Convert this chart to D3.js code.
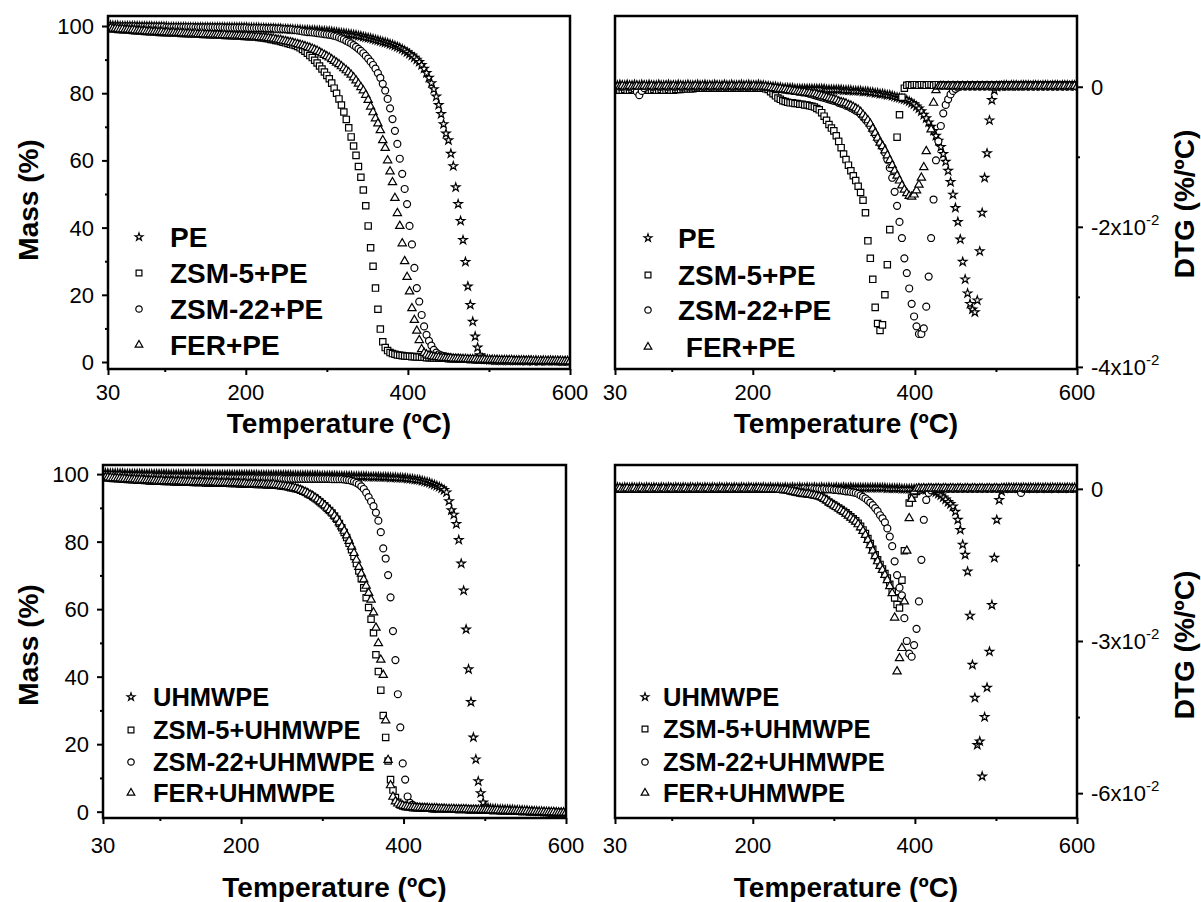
<!DOCTYPE html>
<html>
<head>
<meta charset="utf-8">
<script src="https://cdn.jsdelivr.net/npm/d3@7"></script>
<style>
body { margin: 0; background: #fff; }
text { font-family: "Liberation Sans", Arial, sans-serif; fill: #000; }
</style>
</head>
<body>
<svg width="1201" height="902"></svg>
<script>
// temperature grid (ºC), shared by all sixteen curves
var temps = [
  30,33,36,39,42,45,48,51,54,57, 60,63,66,69,72,75,78,81,84,87,
  90,93,96,99,102,105,108,111,114,117, 120,123,126,129,132,135,138,141,144,147,
  150,153,156,159,162,165,168,171,174,177, 180,183,186,189,192,195,198,201,204,207,
  210,213,216,219,222,225,228,231,234,237, 240,243,246,249,252,255,258,261,264,267,
  270,273,276,279,282,285,288,291,294,297, 300,303,306,309,312,315,318,321,324,327,
  330,333,336,339,342,345,348,351,354,357, 360,363,366,369,372,375,378,381,384,387,
  390,393,396,399,402,405,408,411,414,417, 420,423,426,429,432,435,438,441,444,447,
  450,453,456,459,462,465,468,471,474,477, 480,483,486,489,492,495,498,501,504,507,
  510,513,516,519,522,525,528,531,534,537, 540,543,546,549,552,555,558,561,564,567,
  570,573,576,579,582,585,588,591,594,597, 600
];

// mass (%) - PE group
var tgaPE = [
  100.2,100.2,100.1,100.1,100.1,100.0,100.0,100.0,100.0,100.0,
  100.0,100.0,100.0,99.9,99.9,99.9,99.9,99.9,99.9,99.8,
  99.8,99.8,99.8,99.8,99.8,99.7,99.7,99.7,99.7,99.7,
  99.7,99.7,99.7,99.6,99.6,99.6,99.6,99.6,99.6,99.6,
  99.6,99.6,99.6,99.6,99.6,99.6,99.6,99.6,99.6,99.6,
  99.6,99.6,99.6,99.6,99.6,99.6,99.6,99.6,99.5,99.5,
  99.5,99.5,99.5,99.4,99.4,99.4,99.3,99.3,99.3,99.2,
  99.2,99.2,99.1,99.1,99.1,99.0,99.0,98.9,98.9,98.9,
  98.8,98.8,98.8,98.7,98.7,98.7,98.6,98.6,98.5,98.5,
  98.4,98.4,98.3,98.2,98.1,98.0,97.9,97.8,97.7,97.6,
  97.5,97.4,97.3,97.1,97.0,96.8,96.6,96.5,96.3,96.1,
  95.9,95.7,95.5,95.3,95.1,94.9,94.6,94.4,94.1,93.8,
  93.5,93.1,92.7,92.2,91.7,91.2,90.6,90.0,89.3,88.4,
  87.3,86.0,84.6,83.0,81.2,79.0,76.5,73.8,70.8,68.0,
  66.0,62.0,58.3,52.0,47.0,42.0,36.3,29.8,22.5,17.0,
  12.0,7.6,4.3,2.0,1.1,0.8,0.7,0.6,0.6,0.5,
  0.5,0.5,0.4,0.5,0.4,0.4,0.5,0.4,0.4,0.4,
  0.4,0.4,0.3,0.4,0.4,0.3,0.4,0.3,0.3,0.4,
  0.3,0.3,0.4,0.3,0.3,0.3,0.3,0.2,0.3,0.3, 0.3
];
var tgaZSM5PE = [
  99.3,99.2,99.2,99.1,99.0,99.0,98.9,98.9,98.8,98.8,
  98.7,98.6,98.6,98.5,98.5,98.4,98.4,98.3,98.3,98.2,
  98.2,98.1,98.1,98.1,98.0,98.0,98.0,97.9,97.9,97.9,
  97.8,97.8,97.8,97.7,97.7,97.7,97.6,97.6,97.6,97.5,
  97.5,97.5,97.4,97.4,97.4,97.3,97.3,97.3,97.2,97.2,
  97.2,97.1,97.1,97.1,97.0,97.0,96.9,96.9,96.8,96.8,
  96.8,96.7,96.6,96.5,96.4,96.3,96.2,96.0,95.9,95.7,
  95.6,95.4,95.2,95.0,94.8,94.6,94.4,94.2,93.9,93.5,
  93.0,92.5,91.9,91.2,90.6,89.8,89.0,88.1,87.2,86.3,
  85.3,84.3,83.0,81.5,80.0,78.3,76.5,74.4,72.2,69.7,
  67.0,64.3,61.5,58.2,55.0,51.2,46.5,40.5,34.0,28.5,
  22.0,15.7,9.8,6.0,4.3,3.4,2.8,2.5,2.3,2.1,
  2.0,1.9,1.8,1.7,1.7,1.6,1.6,1.5,1.5,1.4,
  1.4,1.3,1.3,1.3,1.2,1.2,1.2,1.1,1.1,1.1,
  1.0,1.0,1.0,0.9,0.9,0.9,0.9,0.8,0.8,0.8,
  0.8,0.7,0.7,0.7,0.7,0.6,0.6,0.6,0.6,0.6,
  0.6,0.5,0.5,0.5,0.5,0.5,0.5,0.5,0.4,0.4,
  0.4,0.4,0.4,0.4,0.4,0.4,0.3,0.3,0.3,0.3,
  0.3,0.3,0.3,0.3,0.3,0.2,0.2,0.2,0.2,0.2, 0.2
];
var tgaZSM22PE = [
  100.0,100.0,99.9,99.9,99.9,99.9,99.9,99.9,99.9,99.9,
  99.9,99.9,99.8,99.8,99.8,99.8,99.8,99.8,99.8,99.8,
  99.8,99.8,99.8,99.8,99.7,99.7,99.7,99.7,99.7,99.7,
  99.7,99.7,99.7,99.7,99.7,99.7,99.6,99.6,99.6,99.6,
  99.6,99.6,99.6,99.6,99.6,99.6,99.6,99.6,99.5,99.5,
  99.5,99.5,99.5,99.5,99.5,99.5,99.5,99.5,99.4,99.4,
  99.4,99.4,99.4,99.4,99.4,99.3,99.3,99.3,99.3,99.2,
  99.2,99.2,99.1,99.1,99.0,99.0,98.9,98.8,98.7,98.6,
  98.4,98.3,98.2,98.2,98.1,98.0,97.9,97.8,97.7,97.6,
  97.5,97.4,97.3,97.1,96.9,96.6,96.3,96.0,95.6,95.2,
  94.8,94.3,93.8,93.2,92.6,91.9,91.1,90.3,89.4,88.4,
  87.3,86.0,84.6,82.8,80.8,78.3,75.5,72.3,68.8,64.9,
  60.5,56.0,51.5,47.0,40.5,35.0,28.0,22.0,18.0,14.0,
  10.6,8.1,6.3,4.9,3.6,2.8,2.3,2.0,1.8,1.6,
  1.4,1.3,1.2,1.1,1.0,1.0,0.9,0.9,0.8,0.8,
  0.8,0.7,0.7,0.7,0.6,0.6,0.6,0.6,0.5,0.5,
  0.5,0.5,0.5,0.5,0.5,0.4,0.4,0.4,0.4,0.4,
  0.4,0.4,0.4,0.4,0.3,0.3,0.3,0.3,0.3,0.3,
  0.3,0.3,0.3,0.3,0.3,0.3,0.2,0.2,0.2,0.2, 0.2
];
var tgaFERPE = [
  99.4,99.3,99.2,99.2,99.1,99.0,99.0,98.9,98.9,98.8,
  98.8,98.7,98.6,98.6,98.5,98.5,98.4,98.4,98.3,98.3,
  98.2,98.2,98.2,98.1,98.1,98.0,98.0,98.0,97.9,97.9,
  97.9,97.8,97.8,97.8,97.7,97.7,97.7,97.6,97.6,97.6,
  97.5,97.5,97.5,97.4,97.4,97.4,97.3,97.3,97.3,97.2,
  97.2,97.2,97.1,97.1,97.1,97.0,97.0,97.0,96.9,96.9,
  96.8,96.8,96.7,96.6,96.6,96.5,96.4,96.3,96.2,96.0,
  95.9,95.8,95.6,95.5,95.3,95.2,95.0,94.8,94.6,94.4,
  94.2,94.0,93.7,93.5,93.2,92.9,92.6,92.2,91.8,91.4,
  91.0,90.6,90.1,89.6,89.1,88.6,88.0,87.4,86.8,86.2,
  85.5,84.7,83.8,82.8,81.8,80.8,79.5,78.0,76.0,74.3,
  72.5,71.0,69.0,66.0,63.7,60.0,56.7,53.5,48.8,44.3,
  40.5,35.3,30.0,25.3,21.0,16.0,12.5,9.3,6.5,3.8,
  2.7,2.2,1.9,1.7,1.6,1.5,1.4,1.3,1.2,1.2,
  1.1,1.1,1.0,1.0,1.0,0.9,0.9,0.9,0.8,0.8,
  0.8,0.8,0.7,0.7,0.7,0.7,0.6,0.6,0.6,0.6,
  0.6,0.5,0.5,0.5,0.5,0.5,0.5,0.4,0.4,0.4,
  0.4,0.4,0.4,0.4,0.4,0.3,0.3,0.3,0.3,0.3,
  0.3,0.3,0.3,0.3,0.3,0.3,0.3,0.2,0.2,0.2, 0.2
];

// DTG (x10^-2 %/ºC) - PE group
var dtgPE = [
  0.03,0.02,0.03,0.02,0.02,0.03,0.02,0.02,0.03,0.02,
  0.02,0.03,0.02,0.02,0.03,0.02,0.02,0.02,0.03,0.02,
  0.02,0.02,0.03,0.02,0.02,0.02,0.03,0.02,0.02,0.02,
  0.03,0.02,0.02,0.02,0.03,0.02,0.02,0.03,0.02,0.02,
  0.02,0.03,0.02,0.02,0.02,0.03,0.02,0.02,0.03,0.02,
  0.02,0.02,0.03,0.02,0.02,0.03,0.02,0.02,0.02,0.03,
  0.02,0.02,0.01,0.01,0.0,0.0,0.0,-0.01,-0.01,-0.02,
  -0.02,-0.02,-0.02,-0.02,-0.03,-0.03,-0.03,-0.03,-0.03,-0.03,
  -0.03,-0.03,-0.03,-0.03,-0.03,-0.03,-0.03,-0.04,-0.04,-0.04,
  -0.04,-0.04,-0.04,-0.04,-0.05,-0.05,-0.05,-0.05,-0.06,-0.06,
  -0.06,-0.06,-0.07,-0.07,-0.07,-0.08,-0.08,-0.09,-0.09,-0.10,
  -0.10,-0.11,-0.12,-0.12,-0.13,-0.14,-0.15,-0.16,-0.17,-0.18,
  -0.19,-0.21,-0.23,-0.25,-0.28,-0.31,-0.35,-0.40,-0.45,-0.51,
  -0.57,-0.63,-0.70,-0.77,-0.86,-0.96,-1.07,-1.20,-1.36,-1.54,
  -1.73,-1.93,-2.18,-2.50,-2.75,-2.95,-3.10,-3.18,-3.22,-3.05,
  -2.35,-1.80,-1.30,-0.95,-0.48,-0.19,-0.05,0.0,0.01,0.01,
  0.02,0.02,0.01,0.02,0.02,0.02,0.01,0.02,0.02,0.02,
  0.02,0.01,0.02,0.02,0.02,0.01,0.02,0.02,0.02,0.01,
  0.02,0.02,0.02,0.01,0.02,0.02,0.02,0.01,0.02,0.02, 0.02
];
var dtgZSM5PE = [
  -0.05,-0.04,-0.05,-0.05,-0.04,-0.05,-0.05,-0.04,-0.05,-0.05,
  -0.04,-0.05,-0.05,-0.04,-0.05,-0.05,-0.04,-0.05,-0.05,-0.04,
  -0.05,-0.05,-0.04,-0.05,-0.05,-0.04,-0.04,-0.04,-0.03,-0.03,
  -0.03,-0.03,-0.03,-0.02,-0.02,-0.02,-0.02,-0.02,-0.02,-0.02,
  -0.02,-0.02,-0.02,-0.02,-0.02,-0.02,-0.02,-0.02,-0.02,-0.02,
  -0.02,-0.02,-0.02,-0.02,-0.02,-0.02,-0.02,-0.02,-0.02,-0.02,
  -0.02,-0.02,-0.03,-0.04,-0.07,-0.10,-0.13,-0.16,-0.18,-0.20,
  -0.21,-0.22,-0.23,-0.23,-0.24,-0.24,-0.25,-0.25,-0.26,-0.26,
  -0.27,-0.28,-0.29,-0.31,-0.33,-0.37,-0.42,-0.48,-0.54,-0.59,
  -0.63,-0.70,-0.78,-0.87,-0.96,-1.04,-1.12,-1.20,-1.27,-1.34,
  -1.42,-1.51,-1.62,-1.80,-2.20,-2.45,-2.75,-3.15,-3.38,-3.48,
  -3.40,-2.97,-2.54,-2.04,null,null,-0.72,-0.40,-0.15,-0.02,
  0.02,0.03,0.02,0.03,0.03,0.02,0.03,0.03,0.02,0.03,
  0.03,0.02,0.03,0.03,0.02,0.03,0.03,0.02,0.03,0.03,
  0.02,0.03,0.03,0.02,0.03,0.03,0.02,0.03,0.03,0.02,
  0.03,0.03,0.02,0.03,0.03,0.02,0.03,0.03,0.02,0.03,
  0.03,0.02,0.03,0.03,0.02,0.03,0.03,0.02,0.03,0.03,
  0.02,0.03,0.03,0.02,0.03,0.03,0.02,0.03,0.03,0.02,
  0.03,0.03,0.02,0.03,0.03,0.02,0.03,0.03,0.02,0.03, 0.02
];
var dtgZSM22PE = [
  0.0,0.01,0.0,0.0,0.01,0.0,0.0,0.01,-0.03,-0.07,
  -0.12,-0.06,-0.02,0.0,0.01,0.0,0.0,0.01,0.0,0.0,
  0.01,0.0,0.0,0.01,0.0,0.0,0.01,0.0,0.0,0.01,
  0.0,0.0,0.01,0.0,0.0,0.01,0.0,0.0,0.01,0.0,
  0.0,0.01,0.0,0.0,0.01,0.0,0.0,0.01,0.0,0.0,
  0.01,0.0,0.0,0.01,0.0,0.0,0.01,0.0,0.0,0.01,
  0.0,0.0,0.0,-0.01,-0.01,-0.02,-0.02,-0.03,-0.03,-0.04,
  -0.04,-0.05,-0.05,-0.06,-0.06,-0.07,-0.07,-0.08,-0.08,-0.09,
  -0.10,-0.11,-0.12,-0.13,-0.14,-0.15,-0.16,-0.17,-0.18,-0.19,
  -0.20,-0.21,-0.23,-0.24,-0.25,-0.27,-0.28,-0.30,-0.32,-0.34,
  -0.36,-0.39,-0.43,-0.47,-0.51,-0.56,-0.62,-0.68,-0.75,-0.81,
  -0.86,-0.94,-1.04,-1.16,-1.30,-1.50,-1.70,-1.93,-2.16,-2.45,
  -2.66,-2.88,-3.10,-3.28,-3.42,-3.53,-3.53,-3.45,-3.14,-2.71,
  -2.16,-1.61,-1.05,-0.78,-0.56,-0.38,-0.26,-0.18,-0.11,-0.06,
  -0.03,-0.01,0.0,0.01,0.0,0.01,0.0,0.01,0.0,0.01,
  0.0,0.01,0.0,0.01,0.0,0.01,0.0,0.01,0.0,0.01,
  0.0,0.01,0.0,0.01,0.0,0.01,0.0,0.01,0.0,0.01,
  0.0,0.01,0.0,0.01,0.0,0.01,0.0,0.01,0.0,0.01,
  0.0,0.01,0.0,0.01,0.0,0.01,0.0,0.01,0.0,0.01, 0.0
];
var dtgFERPE = [
  0.01,0.0,0.0,0.01,0.0,0.0,0.01,0.0,0.0,0.01,
  0.0,0.0,0.01,0.0,0.0,0.01,0.0,0.0,0.01,0.0,
  0.0,0.01,0.0,0.0,0.01,0.0,0.0,0.01,0.0,0.0,
  0.01,0.0,0.0,0.01,0.0,0.0,0.01,0.0,0.0,0.01,
  0.0,0.0,0.01,0.0,0.0,0.01,0.0,0.0,0.01,0.0,
  0.0,0.01,0.0,0.0,0.01,0.0,0.0,0.01,0.0,0.0,
  0.0,0.0,0.0,-0.01,-0.01,-0.02,-0.02,-0.03,-0.03,-0.04,
  -0.04,-0.05,-0.05,-0.06,-0.06,-0.07,-0.07,-0.08,-0.08,-0.09,
  -0.09,-0.10,-0.10,-0.11,-0.12,-0.13,-0.14,-0.15,-0.16,-0.17,
  -0.18,-0.19,-0.21,-0.22,-0.23,-0.24,-0.26,-0.27,-0.29,-0.31,
  -0.33,-0.36,-0.40,-0.44,-0.48,-0.53,-0.60,-0.66,-0.73,-0.80,
  -0.85,-0.91,-0.98,-1.05,-1.12,-1.20,-1.27,-1.34,-1.41,-1.47,
  -1.52,-1.56,-1.57,-1.54,-1.48,-1.40,-1.30,-1.15,-0.92,null,
  -0.61,-0.23,-0.05,0.0,0.01,0.01,0.0,0.01,0.0,0.01,
  0.0,0.01,0.0,0.01,0.0,0.01,0.0,0.01,0.0,0.01,
  0.0,0.01,0.0,0.01,0.0,0.01,0.0,0.01,0.0,0.01,
  0.0,0.01,0.0,0.01,0.0,0.01,0.0,0.01,0.0,0.01,
  0.0,0.01,0.0,0.01,0.0,0.01,0.0,0.01,0.0,0.01,
  0.0,0.01,0.0,0.01,0.0,0.01,0.0,0.01,0.0,0.01, 0.0
];

// mass (%) - UHMWPE group
var tgaUHMWPE = [
  100.3,100.3,100.3,100.2,100.2,100.2,100.2,100.2,100.2,100.1,
  100.1,100.1,100.1,100.1,100.1,100.1,100.1,100.0,100.0,100.0,
  100.0,100.0,100.0,100.0,100.0,100.0,100.0,99.9,99.9,99.9,
  99.9,99.9,99.9,99.9,99.9,99.9,99.9,99.9,99.9,99.9,
  99.9,99.9,99.9,99.9,99.8,99.8,99.8,99.8,99.8,99.8,
  99.8,99.8,99.8,99.8,99.8,99.8,99.8,99.8,99.8,99.8,
  99.8,99.8,99.8,99.8,99.7,99.7,99.7,99.7,99.7,99.7,
  99.7,99.7,99.7,99.7,99.7,99.7,99.7,99.7,99.6,99.6,
  99.6,99.6,99.6,99.6,99.6,99.6,99.6,99.6,99.6,99.5,
  99.5,99.5,99.5,99.5,99.5,99.5,99.5,99.4,99.4,99.4,
  99.4,99.4,99.4,99.3,99.3,99.3,99.3,99.3,99.3,99.2,
  99.2,99.2,99.2,99.2,99.1,99.1,99.1,99.1,99.0,99.0,
  99.0,98.9,98.9,98.8,98.8,98.7,98.6,98.5,98.4,98.3,
  98.2,98.0,97.8,97.6,97.4,97.1,96.8,96.5,96.2,95.8,
  95.3,94.6,92.0,89.3,88.0,85.2,80.5,73.5,65.5,54.0,
  42.2,32.5,22.0,15.5,9.0,5.5,2.7,1.5,1.1,0.9,
  0.8,0.8,0.7,0.7,0.7,0.6,0.6,0.6,0.6,0.5,
  0.5,0.4,0.4,0.3,0.3,0.2,0.2,0.1,0.1,0.0,
  0.0,-0.1,-0.1,-0.1,-0.2,-0.2,-0.2,-0.3,-0.3,-0.3, -0.3
];
var tgaZSM5UH = [
  99.0,98.9,98.9,98.8,98.7,98.7,98.6,98.6,98.5,98.5,
  98.4,98.4,98.3,98.3,98.2,98.2,98.2,98.1,98.1,98.0,
  98.0,98.0,97.9,97.9,97.9,97.8,97.8,97.8,97.8,97.7,
  97.7,97.7,97.7,97.6,97.6,97.6,97.6,97.5,97.5,97.5,
  97.5,97.5,97.4,97.4,97.4,97.4,97.4,97.3,97.3,97.3,
  97.3,97.3,97.2,97.2,97.2,97.2,97.1,97.1,97.1,97.0,
  97.0,97.0,97.0,96.9,96.9,96.9,96.9,96.8,96.8,96.8,
  96.8,96.7,96.6,96.5,96.4,96.3,96.2,96.0,95.9,95.7,
  95.5,95.2,94.9,94.6,94.2,93.8,93.4,92.9,92.4,91.8,
  91.2,90.6,89.9,89.2,88.5,87.6,86.6,85.4,84.1,82.7,
  81.2,79.5,77.6,75.6,73.5,71.3,69.0,66.3,63.4,60.5,
  57.0,53.0,46.5,41.5,36.0,28.5,22.0,15.0,9.5,6.4,
  4.2,2.8,2.0,1.7,1.5,1.4,1.3,1.2,1.2,1.1,
  1.1,1.0,1.0,1.0,1.0,0.9,0.9,0.9,0.9,0.9,
  0.8,0.8,0.8,0.8,0.8,0.7,0.7,0.7,0.7,0.7,
  0.6,0.6,0.6,0.6,0.6,0.5,0.5,0.5,0.5,0.4,
  0.4,0.4,0.4,0.3,0.3,0.3,0.3,0.2,0.2,0.2,
  0.2,0.1,0.1,0.1,0.1,0.0,0.0,0.0,-0.1,-0.1,
  -0.1,-0.1,-0.2,-0.2,-0.2,-0.2,-0.3,-0.3,-0.3,-0.3, -0.3
];
var tgaZSM22UH = [
  99.8,99.8,99.7,99.7,99.7,99.6,99.6,99.6,99.5,99.5,
  99.5,99.5,99.4,99.4,99.4,99.4,99.3,99.3,99.3,99.3,
  99.3,99.2,99.2,99.2,99.2,99.2,99.1,99.1,99.1,99.1,
  99.1,99.1,99.0,99.0,99.0,99.0,99.0,99.0,99.0,99.0,
  99.0,98.9,98.9,98.9,98.9,98.9,98.9,98.9,98.9,98.9,
  98.9,98.9,98.8,98.8,98.8,98.8,98.8,98.8,98.8,98.8,
  98.8,98.8,98.8,98.7,98.7,98.7,98.7,98.7,98.7,98.7,
  98.7,98.7,98.7,98.7,98.6,98.6,98.6,98.6,98.6,98.6,
  98.6,98.6,98.6,98.6,98.6,98.6,98.6,98.6,98.6,98.6,
  98.6,98.6,98.6,98.6,98.5,98.5,98.5,98.5,98.5,98.4,
  98.3,98.2,98.0,97.8,97.4,97.0,96.4,95.6,94.5,93.2,
  91.9,90.5,88.6,86.2,82.8,78.0,75.0,70.1,63.5,53.5,
  44.9,34.8,25.0,14.3,9.5,4.5,2.6,2.0,1.6,1.4,
  1.3,1.2,1.2,1.1,1.1,1.0,1.0,1.0,0.9,0.9,
  0.9,0.8,0.8,0.8,0.8,0.7,0.7,0.7,0.7,0.7,
  0.6,0.6,0.6,0.6,0.5,0.5,0.5,0.5,0.5,0.4,
  0.4,0.4,0.4,0.3,0.3,0.3,0.3,0.2,0.2,0.2,
  0.2,0.1,0.1,0.1,0.1,0.0,0.0,0.0,-0.1,-0.1,
  -0.1,-0.1,-0.1,-0.2,-0.2,-0.2,-0.2,-0.3,-0.3,-0.3, -0.3
];
var tgaFERUH = [
  99.1,99.0,99.0,98.9,98.8,98.8,98.7,98.7,98.6,98.6,
  98.5,98.5,98.4,98.4,98.3,98.3,98.3,98.2,98.2,98.1,
  98.1,98.1,98.0,98.0,98.0,97.9,97.9,97.9,97.9,97.8,
  97.8,97.8,97.8,97.7,97.7,97.7,97.7,97.6,97.6,97.6,
  97.6,97.6,97.5,97.5,97.5,97.5,97.5,97.4,97.4,97.4,
  97.4,97.4,97.3,97.3,97.3,97.3,97.2,97.2,97.2,97.1,
  97.1,97.1,97.1,97.0,97.0,97.0,97.0,96.9,96.9,96.9,
  96.9,96.8,96.7,96.6,96.5,96.4,96.3,96.1,96.0,95.8,
  95.6,95.3,95.0,94.7,94.3,93.9,93.5,93.0,92.5,91.9,
  91.3,90.7,90.0,89.3,88.6,87.7,86.8,85.7,84.5,83.2,
  81.8,80.2,78.5,76.6,74.6,72.5,70.5,68.8,66.9,64.8,
  62.8,59.0,54.5,49.9,45.0,40.5,27.0,15.3,7.8,4.4,
  3.0,2.4,2.0,1.8,1.6,1.5,1.4,1.3,1.3,1.2,
  1.2,1.1,1.1,1.1,1.0,1.0,1.0,1.0,0.9,0.9,
  0.9,0.8,0.8,0.8,0.8,0.7,0.7,0.7,0.7,0.7,
  0.6,0.6,0.6,0.6,0.6,0.5,0.5,0.5,0.5,0.4,
  0.4,0.4,0.4,0.3,0.3,0.3,0.3,0.2,0.2,0.2,
  0.2,0.1,0.1,0.1,0.1,0.0,0.0,0.0,-0.1,-0.1,
  -0.1,-0.1,-0.2,-0.2,-0.2,-0.2,-0.3,-0.3,-0.3,-0.3, -0.3
];

// DTG (x10^-2 %/ºC) - UHMWPE group
var dtgUHMWPE = [
  0.02,0.03,0.02,0.02,0.03,0.02,0.02,0.03,0.02,0.02,
  0.03,0.02,0.02,0.03,0.02,0.02,0.03,0.02,0.02,0.03,
  0.02,0.02,0.03,0.02,0.02,0.03,0.02,0.02,0.03,0.02,
  0.02,0.03,0.02,0.02,0.03,0.02,0.02,0.03,0.02,0.02,
  0.03,0.02,0.02,0.03,0.02,0.02,0.03,0.02,0.02,0.03,
  0.02,0.02,0.03,0.02,0.02,0.03,0.02,0.02,0.03,0.02,
  0.02,0.03,0.02,0.02,0.03,0.02,0.02,0.03,0.02,0.02,
  0.03,0.02,0.02,0.03,0.02,0.02,0.03,0.02,0.02,0.03,
  0.02,0.02,0.03,0.02,0.02,0.03,0.02,0.02,0.03,0.02,
  0.02,0.03,0.02,0.02,0.03,0.02,0.02,0.03,0.02,0.02,
  0.02,0.02,0.02,0.02,0.02,0.02,0.02,0.02,0.02,0.02,
  0.02,0.02,0.01,0.01,0.01,0.01,0.01,0.01,0.0,0.0,
  0.0,0.0,0.0,0.0,-0.01,-0.01,-0.01,-0.01,-0.02,-0.02,
  -0.03,-0.05,-0.07,-0.10,-0.13,-0.17,-0.21,-0.26,-0.30,-0.35,
  -0.45,-0.61,-0.81,-1.10,-1.30,-1.63,-2.50,-3.47,-4.12,-5.05,
  -4.98,-5.67,-4.50,-3.92,-3.21,-2.29,-1.36,-0.61,-0.22,-0.05,
  0.01,0.02,0.02,0.01,0.02,0.02,0.01,0.02,0.02,0.01,
  0.02,0.02,0.01,0.02,0.02,0.01,0.02,0.02,0.01,0.02,
  0.02,0.01,0.02,0.02,0.01,0.02,0.02,0.01,0.02,0.02, 0.02
];
var dtgZSM5UH = [
  0.0,0.01,-0.01,0.0,0.01,-0.01,0.0,0.01,-0.01,0.0,
  0.01,-0.01,0.0,0.01,-0.01,0.0,0.01,-0.01,0.0,0.01,
  -0.01,0.0,0.01,-0.01,0.0,0.01,-0.01,0.0,0.01,-0.01,
  0.0,0.01,-0.01,0.0,0.01,-0.01,0.0,0.01,-0.01,0.0,
  0.01,-0.01,0.0,0.01,-0.01,0.0,0.01,-0.01,0.0,0.01,
  -0.01,0.0,0.01,-0.01,0.0,0.01,-0.01,0.0,0.01,-0.01,
  0.0,0.0,0.0,-0.01,0.0,-0.01,-0.01,-0.01,-0.01,-0.02,
  -0.02,-0.03,-0.04,-0.05,-0.06,-0.07,-0.08,-0.09,-0.09,-0.10,
  -0.10,-0.11,-0.12,-0.13,-0.14,-0.16,-0.19,-0.22,-0.26,-0.29,
  -0.32,-0.35,-0.38,-0.41,-0.44,-0.47,-0.51,-0.55,-0.59,-0.63,
  -0.68,-0.74,-0.81,-0.88,-0.98,-1.08,-1.19,-1.30,-1.40,-1.49,
  -1.58,-1.67,-1.76,-1.88,-2.02,-2.15,-2.28,-2.35,-1.80,-1.22,
  null,-0.28,-0.18,-0.10,-0.05,-0.02,0.0,0.01,0.0,0.01,
  0.02,0.01,0.02,0.01,0.02,0.01,0.02,0.01,0.02,0.01,
  0.02,0.01,0.02,0.01,0.02,0.01,0.02,0.01,0.02,0.01,
  0.02,0.01,0.02,0.01,0.02,0.01,0.02,0.01,0.02,0.01,
  0.02,0.01,0.02,0.01,0.02,0.01,0.02,0.01,0.02,0.01,
  0.02,0.01,0.02,0.01,0.02,0.01,0.02,0.01,0.02,0.01,
  0.02,0.01,0.02,0.01,0.02,0.01,0.02,0.01,0.02,0.01, 0.01
];
var dtgZSM22UH = [
  0.01,0.0,0.0,0.01,0.0,0.0,0.01,0.0,0.0,0.01,
  0.0,0.0,0.01,0.0,0.0,0.01,0.0,0.0,0.01,0.0,
  0.0,0.01,0.0,0.0,0.01,0.0,0.0,0.01,0.0,0.0,
  0.01,0.0,0.0,0.01,0.0,0.0,0.01,0.0,0.0,0.01,
  0.0,0.0,0.01,0.0,0.0,0.01,0.0,0.0,0.01,0.0,
  0.0,0.01,0.0,0.0,0.01,0.0,0.0,0.01,0.0,0.0,
  0.01,0.0,0.0,0.01,0.0,0.0,0.01,0.0,0.0,0.01,
  0.0,0.0,0.01,0.0,0.0,0.01,0.0,0.0,0.01,0.0,
  0.0,0.01,0.0,0.0,0.0,-0.01,0.0,-0.01,-0.01,-0.01,
  -0.02,-0.02,-0.03,-0.03,-0.04,-0.05,-0.05,-0.06,-0.07,-0.08,
  -0.10,-0.13,-0.16,-0.19,-0.23,-0.27,-0.32,-0.38,-0.44,-0.52,
  -0.58,-0.66,-0.78,-0.94,-1.13,-1.43,-1.70,-1.95,-2.10,-2.55,
  -3.00,-3.25,-3.31,-3.08,-2.76,-2.22,-1.40,-0.61,-0.22,-0.08,
  -0.03,0.0,0.01,0.0,0.01,0.0,0.01,0.0,0.01,0.0,
  0.01,0.0,0.01,0.0,0.01,0.0,0.01,0.0,0.01,0.0,
  0.01,0.0,0.01,0.0,0.01,0.0,0.01,0.0,0.01,0.0,
  0.01,0.0,0.01,0.0,0.01,0.0,0.0,-0.08,0.0,0.01,
  0.0,0.01,0.0,0.01,0.0,0.01,0.0,0.01,0.0,0.01,
  0.0,0.01,0.0,0.01,0.0,0.01,0.0,0.01,0.0,0.01, 0.0
];
var dtgFERUH = [
  -0.01,0.0,0.01,-0.01,0.0,0.01,-0.01,0.0,0.01,-0.01,
  0.0,0.01,-0.01,0.0,0.01,-0.01,0.0,0.01,-0.01,0.0,
  0.01,-0.01,0.0,0.01,-0.01,0.0,0.01,-0.01,0.0,0.01,
  -0.01,0.0,0.01,-0.01,0.0,0.01,-0.01,0.0,0.01,-0.01,
  0.0,0.01,-0.01,0.0,0.01,-0.01,0.0,0.01,-0.01,0.0,
  0.01,-0.01,0.0,0.01,-0.01,0.0,0.01,-0.01,0.0,0.01,
  0.0,0.0,-0.01,-0.01,-0.01,-0.01,-0.01,-0.01,-0.02,-0.02,
  -0.02,-0.03,-0.04,-0.05,-0.06,-0.07,-0.08,-0.09,-0.10,-0.10,
  -0.11,-0.12,-0.13,-0.14,-0.15,-0.17,-0.20,-0.23,-0.27,-0.30,
  -0.33,-0.36,-0.39,-0.42,-0.45,-0.49,-0.53,-0.57,-0.61,-0.65,
  -0.70,-0.76,-0.83,-0.91,-1.01,-1.11,-1.22,-1.33,-1.43,-1.52,
  -1.60,-1.70,-1.80,-1.92,-2.06,-2.54,-3.60,-3.34,-3.14,-2.22,
  -1.22,-0.58,-0.20,-0.05,0.0,0.01,0.0,0.01,0.0,0.01,
  0.01,0.0,0.01,0.01,0.0,0.01,0.01,0.0,0.01,0.01,
  0.0,0.01,0.01,0.0,0.01,0.01,0.0,0.01,0.01,0.0,
  0.01,0.01,0.0,0.01,0.01,0.0,0.01,0.01,0.0,0.01,
  0.01,0.0,0.01,0.01,0.0,0.01,0.01,0.0,0.01,0.01,
  0.0,0.01,0.01,0.0,0.01,0.01,0.0,0.01,0.01,0.0,
  0.01,0.01,0.0,0.01,0.01,0.0,0.01,0.01,0.0,0.01, 0.01
];

// legends and ticks
var namesPE = ["PE", "ZSM-5+PE", "ZSM-22+PE", "FER+PE"];
var namesPEdtg = ["PE", "ZSM-5+PE", "ZSM-22+PE", " FER+PE"];
var namesUH = ["UHMWPE", "ZSM-5+UHMWPE", "ZSM-22+UHMWPE", "FER+UHMWPE"];
var xTicks = [30, 200, 400, 600];
var xMinor = [100, 300, 500];
var massTicks = [0, 20, 40, 60, 80, 100];
var massMinor = [10, 30, 50, 70, 90];
var dtgTicksTop = [0, -2, -4];
var dtgMinorTop = [-1, -3];
var dtgTicksBottom = [0, -3, -6];
var dtgMinorBottom = [-1.5, -4.5];

var svg = d3.select("svg");

var symbols = [d3.symbolStar, d3.symbolSquare, d3.symbolCircle, d3.symbolTriangle];
var symbolSizes = [22, 40, 38, 30];

var panels = [
  {id: "tl", left: 108, right: 570, top: 16, bottom: 369, yDomain: [-2.08, 102.98],
   series: [tgaPE, tgaZSM5PE, tgaZSM22PE, tgaFERPE], names: namesPE, kind: "mass",
   ticks: massTicks, minor: massMinor, legX: 139, legTextX: 170, legY: [237, 273, 309, 345], legFont: 28,
   tickLabelY: 400, titleY: 433, sideTitleY: 200},
  {id: "tr", left: 615, right: 1077, top: 16, bottom: 369, yDomain: [-4.03, 1.01],
   series: [dtgPE, dtgZSM5PE, dtgZSM22PE, dtgFERPE], names: namesPEdtg, kind: "dtg",
   ticks: dtgTicksTop, minor: dtgMinorTop, legX: 648, legTextX: 678, legY: [238, 275, 310, 347], legFont: 28,
   tickLabelY: 400, titleY: 433, sideTitleY: 204},
  {id: "bl", left: 103, right: 566, top: 465, bottom: 818, yDomain: [-1.87, 102.7],
   series: [tgaUHMWPE, tgaZSM5UH, tgaZSM22UH, tgaFERUH], names: namesUH, kind: "mass",
   ticks: massTicks, minor: massMinor, legX: 131, legTextX: 153, legY: [697, 730, 762, 793], legFont: 25.5,
   tickLabelY: 853, titleY: 897, sideTitleY: 645},
  {id: "br", left: 615, right: 1077, top: 465, bottom: 818, yDomain: [-6.49, 0.47],
   series: [dtgUHMWPE, dtgZSM5UH, dtgZSM22UH, dtgFERUH], names: namesUH, kind: "dtg",
   ticks: dtgTicksBottom, minor: dtgMinorBottom, legX: 645, legTextX: 663, legY: [697, 729, 762, 793], legFont: 25.5,
   tickLabelY: 853, titleY: 897, sideTitleY: 645}
];

panels.forEach(function(p) {
  var x = d3.scaleLinear().domain([30, 600]).range([p.left, p.right]);
  var y = d3.scaleLinear().domain(p.yDomain).range([p.bottom, p.top]);

  svg.append("clipPath").attr("id", "clip-" + p.id)
    .append("rect")
    .attr("x", p.left).attr("y", p.top)
    .attr("width", p.right - p.left).attr("height", p.bottom - p.top);

  // data markers
  var g = svg.append("g").attr("clip-path", "url(#clip-" + p.id + ")");
  p.series.forEach(function(vals, si) {
    var pts = temps.map(function(t, i) { return [t, vals[i]]; })
      .filter(function(d) { return d[1] !== null && d[1] !== undefined; });
    var sym = d3.symbol().type(symbols[si]).size(symbolSizes[si]);
    g.append("g").selectAll("path")
      .data(pts)
      .enter().append("path")
      .attr("d", sym)
      .attr("transform", function(d) { return "translate(" + x(d[0]) + "," + y(d[1]) + ")"; })
      .attr("fill", "#fff")
      .attr("stroke", "#000")
      .attr("stroke-width", 1.2);
  });

  // x axis
  svg.append("g").attr("transform", "translate(0," + p.bottom + ")")
    .call(d3.axisBottom(x).tickValues(xTicks).tickSize(6).tickSizeOuter(0).tickFormat(""));
  svg.append("g").attr("transform", "translate(0," + p.bottom + ")")
    .call(d3.axisBottom(x).tickValues(xMinor).tickSize(3).tickSizeOuter(0).tickFormat(""));
  svg.selectAll(".domain").remove();

  svg.append("g").selectAll("text")
    .data(xTicks)
    .enter().append("text")
    .attr("x", function(d) { return x(d); })
    .attr("y", p.tickLabelY)
    .attr("text-anchor", "middle")
    .attr("font-size", 22)
    .text(function(d) { return d; });

  svg.append("text")
    .attr("x", (p.left + p.right) / 2)
    .attr("y", p.titleY)
    .attr("text-anchor", "middle")
    .attr("font-size", 28)
    .attr("font-weight", "bold")
    .text("Temperature (ºC)");

  // y axis
  if (p.kind === "mass") {
    svg.append("g").attr("transform", "translate(" + p.left + ",0)")
      .call(d3.axisLeft(y).tickValues(p.ticks).tickSize(6).tickSizeOuter(0).tickFormat(""));
    svg.append("g").attr("transform", "translate(" + p.left + ",0)")
      .call(d3.axisLeft(y).tickValues(p.minor).tickSize(3).tickSizeOuter(0).tickFormat(""));
    svg.append("g").selectAll("text")
      .data(p.ticks)
      .enter().append("text")
      .attr("x", p.left - 14)
      .attr("y", function(d) { return y(d) + 8; })
      .attr("text-anchor", "end")
      .attr("font-size", 22)
      .text(function(d) { return d; });
    svg.append("text")
      .attr("transform", "translate(28," + p.sideTitleY + ") rotate(-90)")
      .attr("text-anchor", "middle")
      .attr("dominant-baseline", "central")
      .attr("font-size", 28)
      .attr("font-weight", "bold")
      .text("Mass (%)");
  } else {
    svg.append("g").attr("transform", "translate(" + p.right + ",0)")
      .call(d3.axisRight(y).tickValues(p.ticks).tickSize(6).tickSizeOuter(0).tickFormat(""));
    svg.append("g").attr("transform", "translate(" + p.right + ",0)")
      .call(d3.axisRight(y).tickValues(p.minor).tickSize(3).tickSizeOuter(0).tickFormat(""));
    var lab = svg.append("g").selectAll("text")
      .data(p.ticks)
      .enter().append("text")
      .attr("x", p.right + 14)
      .attr("y", function(d) { return y(d) + 8; })
      .attr("font-size", 22);
    lab.each(function(d) {
      var t = d3.select(this);
      if (d === 0) { t.text("0"); return; }
      t.append("tspan").text(d + "x10");
      t.append("tspan").attr("dy", -10).attr("font-size", 15).text("-2");
    });
    svg.append("text")
      .attr("transform", "translate(1184," + p.sideTitleY + ") rotate(-90)")
      .attr("text-anchor", "middle")
      .attr("dominant-baseline", "central")
      .attr("font-size", 28)
      .attr("font-weight", "bold")
      .text("DTG (%/ºC)");
  }

  // legend
  p.names.forEach(function(name, si) {
    svg.append("path")
      .attr("d", d3.symbol().type(symbols[si]).size(symbolSizes[si] * 0.85))
      .attr("transform", "translate(" + p.legX + "," + p.legY[si] + ")")
      .attr("fill", "#fff")
      .attr("stroke", "#000")
      .attr("stroke-width", 1.2);
    svg.append("text")
      .attr("x", p.legTextX)
      .attr("y", p.legY[si] + p.legFont * 0.36)
      .attr("font-size", p.legFont)
      .attr("font-weight", "bold")
      .style("white-space", "pre")
      .text(name);
  });

  // frame
  svg.append("rect")
    .attr("x", p.left).attr("y", p.top)
    .attr("width", p.right - p.left).attr("height", p.bottom - p.top)
    .attr("fill", "none")
    .attr("stroke", "#000")
    .attr("stroke-width", 2.5);
});

svg.selectAll(".tick line").attr("stroke", "#000").attr("stroke-width", 2);
</script>
</body>
</html>
